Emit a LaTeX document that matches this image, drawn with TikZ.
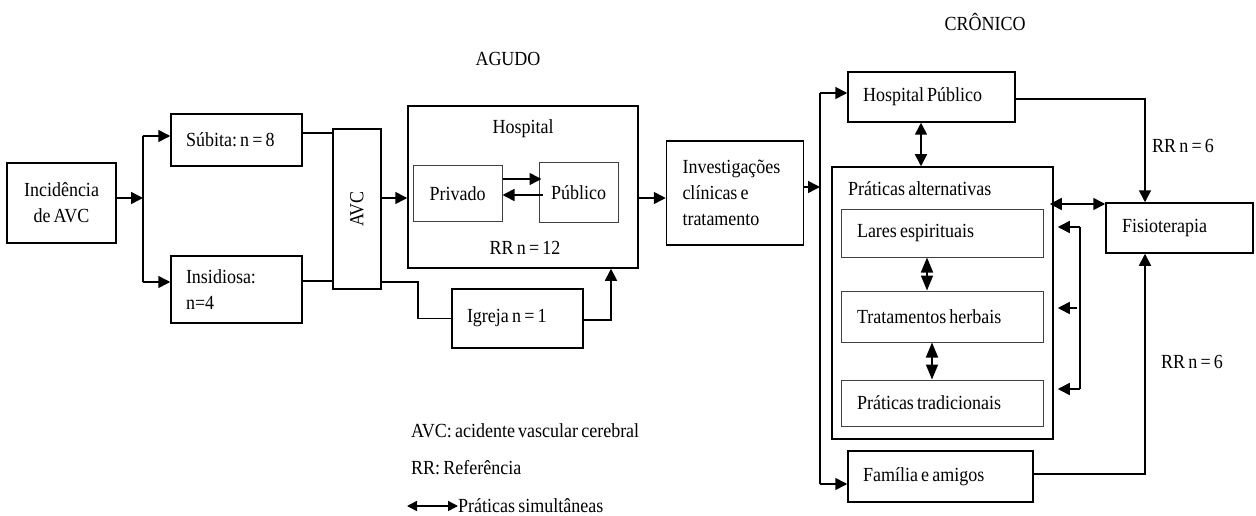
\documentclass[tikz,border=0pt]{standalone}
\usepackage{fontspec}
\setmainfont{Liberation Serif}[FakeStretch=0.9,WordSpace=0.7]
\usetikzlibrary{arrows.meta}
\begin{document}
\frenchspacing
\begin{tikzpicture}[x=1pt,y=-1pt,
  font=\fontsize{20}{26}\selectfont,
  box/.style={draw=black,line width=1.5pt,inner sep=0pt,inner xsep=15pt,align=flush left},
  sub/.style={draw=black!75,line width=1pt,inner sep=0pt},
  lbl/.style={inner sep=0pt},
  conn/.style={line width=1.6pt},
  arr/.style={conn,-{Triangle[length=12pt,width=12pt]}},
  darr/.style={conn,{Triangle[length=12pt,width=12pt]}-{Triangle[length=12pt,width=12pt]}},
  sarr/.style={conn,{Triangle[length=15pt,width=12pt]}-{Triangle[length=15pt,width=12pt]}}]
\useasboundingbox (0,0) rectangle (1256,516);

% top labels
\node[lbl] (agudo) at (508,59) {AGUDO};
\node[lbl] (cronico) at (985,22) {CRÔNICO};

% left part
\node[box,align=center,inner xsep=0pt,minimum width=109pt,minimum height=80pt] (inc) at (61.5,203) {Incidência\\de AVC};
\node[box,text width=101pt,minimum height=52pt] (sub) at (236.5,140) {Súbita: n = 8};
\node[box,text width=101pt,minimum height=67pt] (ins) at (236.5,289.5) {Insidiosa:\\n=4};
\node[box,inner xsep=0pt,minimum width=48pt,minimum height=160pt] (avc) at (357,209) {};
\node[lbl,rotate=90] (avct) at (357,209) {AVC};

% hospital
\node[box,minimum width=230pt,minimum height=162pt,inner xsep=0pt] (hosp) at (523,187) {};
\node[lbl] (hospt) at (523,129) {Hospital};
\node[lbl] (rr12) at (525,248) {RR n = 12};
\node[sub,minimum width=89pt,minimum height=55pt] (priv) at (457.5,193.5) {Privado};
\node[sub,minimum width=79pt,minimum height=59pt] (pub) at (578.5,192.5) {Público};
\node[box,text width=101pt,minimum height=59pt] (igr) at (517.5,318.5) {Igreja n = 1};
\node[box,text width=105pt,minimum height=104pt,inner xsep=16pt] (inv) at (735,193) {Investigações\\clínicas e\\tratamento};

% chronic
\node[box,text width=137pt,minimum height=50pt] (hp) at (931.5,97) {Hospital Público};
\node[box,minimum width=221pt,minimum height=272pt,inner xsep=0pt] (pa) at (942.5,303) {};
\node[lbl,anchor=west] (pat) at (848,189) {Práticas alternativas};
\node[sub,text width=170pt,inner xsep=16pt,minimum height=48pt,align=flush left] (lares) at (942,233) {Lares espirituais};
\node[sub,text width=170pt,inner xsep=16pt,minimum height=51pt,align=flush left] (trat) at (942,316.5) {Tratamentos herbais};
\node[sub,text width=170pt,inner xsep=16pt,minimum height=46pt,align=flush left] (trad) at (942,403) {Práticas tradicionais};
\node[box,text width=115pt,inner xsep=16pt,minimum height=50pt] (fisio) at (1179.5,228) {Fisioterapia};
\node[box,text width=155pt,minimum height=51pt] (fam) at (940.5,476.5) {Família e amigos};
\node[lbl] (rr6a) at (1183,146) {RR n = 6};
\node[lbl] (rr6b) at (1192,362) {RR n = 6};

% legend
\node[lbl,anchor=west] (leg1) at (411,431) {AVC: acidente vascular cerebral};
\node[lbl,anchor=west] (leg2) at (411,468) {RR: Referência};
\coordinate (la) at (407,506);
\node[lbl,anchor=west] (leg3) at (458,506) {Práticas simultâneas};

% connectors left
\coordinate (br) at (143,198);
\draw[arr] ([yshift=5pt]inc.east) -- (br);
\draw[conn] (br) -- (143,136) -- (143,282) -- (br);
\draw[arr] (143,136) -- ([yshift=4pt]sub.west);
\draw[arr] (143,282) -- ([yshift=7.5pt]ins.west);
\draw[conn] ([yshift=7pt]sub.east) -- ([yshift=76pt]avc.west);
\draw[conn] ([yshift=8.5pt]ins.east) -- ([yshift=-72pt]avc.west);
\draw[arr] ([yshift=11pt]avc.east) -- ([yshift=-11pt]hosp.west);
\draw[conn] ([yshift=-73pt]avc.east) -- ++(36,0) |- (igr.west);
\draw[arr] ([yshift=-1.5pt]igr.east) -| ([xshift=88pt]hosp.south);
\draw[arr] ([yshift=14.5pt]priv.east) -- ([xshift=3pt,yshift=13.5pt]pub.west);
\draw[arr] ([xshift=4pt,yshift=-2.5pt]pub.west) -- ([yshift=-1.5pt]priv.east);
\draw[arr] ([yshift=-11pt]hosp.east) -- ([yshift=-5pt]inv.west);

% connectors right
\coordinate (vt) at (820,93);
\coordinate (vb) at (820,484);
\draw[arr] ([yshift=6pt]inv.east) -- (vt |- 0,187);
\draw[conn] (vt) -- (vb);
\draw[arr] (vt) -- ([yshift=4pt]hp.west);
\draw[arr] (vb) -- ([yshift=-7.5pt]fam.west);
\draw[arr] ([yshift=-2pt]hp.east) -| ([xshift=-34.5pt]fisio.north);
\draw[arr] ([yshift=2.5pt]fam.east) -| ([xshift=-34.5pt]fisio.south);
\draw[darr] ([xshift=-10.5pt]hp.south) -- ([xshift=-21.5pt]pa.north);
\draw[darr] ([xshift=-4pt,yshift=99pt]pa.east) -- ([yshift=24pt]fisio.west);
\draw[sarr] ([xshift=-15pt]lares.south) -- ([xshift=-15pt]trat.north);
\draw[sarr] ([xshift=-10pt]trat.south) -- ([xshift=-10pt]trad.north);
\coordinate (ft) at (1080,227);
\coordinate (fm) at (1077,308);
\coordinate (fb) at (1080,389);
\draw[conn] (ft) -- (fb);
\draw[arr] (ft) -- ([xshift=4pt,yshift=76pt]pa.east);
\draw[arr] (fm) -- ([xshift=4pt,yshift=-5pt]pa.east);
\draw[arr] (fb) -- ([xshift=4pt,yshift=-86pt]pa.east);

% legend arrow
\draw[{Triangle[length=10pt,width=10pt]}-{Triangle[length=10pt,width=10pt]},line width=1.6pt] (la) -- (leg3.west);
\end{tikzpicture}
\end{document}
